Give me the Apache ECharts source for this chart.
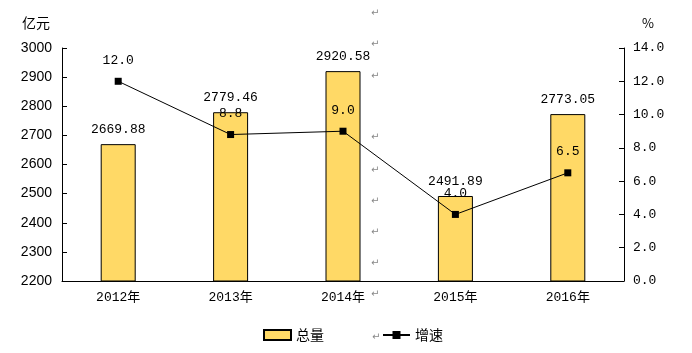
<!DOCTYPE html>
<html>
<head>
<meta charset="utf-8">
<script src="https://cdn.jsdelivr.net/npm/echarts@6/dist/echarts.min.js"></script>
<style>
  html, body { margin: 0; padding: 0; background: #fff; }
  #main { width: 692px; height: 353px; }
</style>
</head>
<body>
<div id="main"></div>
<script>
const years = ['2012年', '2013年', '2014年', '2015年', '2016年'];
const totals = [2669.88, 2779.46, 2920.58, 2491.89, 2773.05];
const growth = [12.0, 8.8, 9.0, 4.0, 6.5];
// Word 段落标记（原图里残留的 ↵）
const markYs = [14, 45, 77, 138, 171, 202, 233, 264, 295];

const monoFont = '"Liberation Mono", "Noto Sans CJK SC", monospace';
const cjkFont = '"Noto Sans CJK SC", sans-serif';

const chart = echarts.init(document.getElementById('main'), null, { renderer: 'canvas' });

const marks = markYs.map(y => ({
    type: 'text',
    left: 371,
    top: y - 6,
    style: { text: '↵', fill: '#888', font: '10px "DejaVu Sans"' }
}));
marks.push({
    type: 'text',
    left: 372,
    top: 332,
    style: { text: '↵', fill: '#888', font: '10px "DejaVu Sans"' }
});

const options = {
    animation: false,
    backgroundColor: '#fff',
    grid: {
        left: 62,
        right: 68,
        top: 48,
        bottom: 72
    },
    legend: {
        bottom: 6,
        left: 258,
        itemGap: 58,
        itemWidth: 27,
        itemHeight: 10,
        textStyle: { fontFamily: cjkFont, fontSize: 14, color: '#000' },
        data: [
            { name: '总量', icon: 'rect' },
            { name: '增速' }
        ]
    },
    xAxis: {
        type: 'category',
        data: years,
        axisLine: { lineStyle: { color: '#000', width: 1 } },
        axisTick: { inside: true, length: 6, lineStyle: { color: '#000' } },
        axisLabel: { color: '#000', fontFamily: monoFont, fontSize: 13, margin: 10 }
    },
    yAxis: [
        {
            type: 'value',
            name: '亿元',
            nameGap: 18,
            nameTextStyle: { color: '#000', fontFamily: cjkFont, fontSize: 14, align: 'right', padding: [0, 12, 0, 0] },
            min: 2200,
            max: 3000,
            interval: 100,
            splitLine: { show: false },
            axisLine: { show: true, lineStyle: { color: '#000' } },
            axisTick: { show: true, inside: true, length: 5, lineStyle: { color: '#000' } },
            axisLabel: {
                color: '#000',
                fontFamily: '"Liberation Sans", Arial',
                fontSize: 14,
                margin: 10,
                formatter: v => String(v)
            }
        },
        {
            type: 'value',
            name: '%',
            nameGap: 18,
            nameTextStyle: { color: '#000', fontFamily: cjkFont, fontSize: 13, align: 'left', padding: [0, 0, 0, 18] },
            min: 0,
            max: 14,
            interval: 2,
            splitLine: { show: false },
            axisLine: { show: true, lineStyle: { color: '#000' } },
            axisTick: { show: true, inside: true, length: 5, lineStyle: { color: '#000' } },
            axisLabel: {
                color: '#000',
                fontFamily: monoFont,
                fontSize: 13,
                margin: 9,
                formatter: v => v.toFixed(1)
            }
        }
    ],
    series: [
        {
            name: '总量',
            type: 'bar',
            data: totals,
            barWidth: 35,
            itemStyle: { color: '#FFD966', borderColor: '#000', borderWidth: 1 },
            label: {
                show: true,
                position: 'top',
                distance: 8,
                color: '#000',
                fontFamily: monoFont,
                fontSize: 13,
                formatter: p => p.value.toFixed(2)
            }
        },
        {
            name: '增速',
            type: 'line',
            yAxisIndex: 1,
            data: growth,
            symbol: 'rect',
            symbolSize: 7,
            lineStyle: { color: '#000', width: 1 },
            itemStyle: { color: '#000' },
            label: {
                show: true,
                position: 'top',
                distance: 11,
                color: '#000',
                fontFamily: monoFont,
                fontSize: 13,
                formatter: p => p.value.toFixed(1)
            }
        }
    ],
    graphic: marks
};

chart.setOption(options);

window.addEventListener('resize', () => {
    chart.resize();
});
</script>
</body>
</html>
